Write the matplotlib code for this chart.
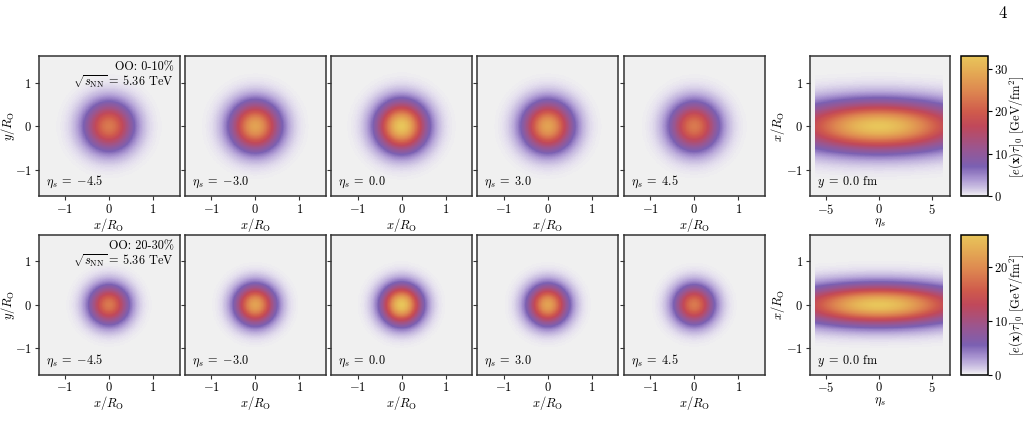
import numpy as np
import matplotlib
matplotlib.use("Agg")
import matplotlib.pyplot as plt
from matplotlib.colors import LinearSegmentedColormap

plt.rcParams['font.family'] = 'serif'
plt.rcParams['font.serif'] = ['cmr10', 'DejaVu Serif']
plt.rcParams['mathtext.fontset'] = 'cm'
plt.rcParams['axes.formatter.use_mathtext'] = True
plt.rcParams['axes.unicode_minus'] = True

# ---------------- data ----------------
eta_slices = [-4.5, -3.0, 0.0, 3.0, 4.5]
row_labels = ["OO: 0-10%", "OO: 20-30%"]
peak_energy = [33.0, 26.0]          # GeV/fm^2 at x=y=0, eta=0
sigma_transverse = [0.37, 0.30]     # in units of R_O
sigma_eta = [5.4, 5.4]              # longitudinal Gaussian width
eta_max = [6.05, 6.05]              # rapidity cut of the grid
cbar_ticks = [[0, 10, 20, 30], [0, 10, 20]]
space_ticks = [-1, 0, 1]
eta_ticks = [-5, 0, 5]

cmap_colors = ["#f0f0f0", "#e7e3ef", "#d0c6e4", "#ab97d2", "#7b60b2", "#9a5690",
               "#c0485a", "#cf5a4c", "#dd8650", "#e3a553", "#e8c55a"]
cmap_pos = [0.0, 0.015, 0.05, 0.12, 0.21, 0.34, 0.5, 0.6, 0.75, 0.87, 1.0]
cmap = LinearSegmentedColormap.from_list("ecmap", list(zip(cmap_pos, cmap_colors)))
bg = cmap(0.0)

W, H = 1025, 423
fig = plt.figure(figsize=(W / 100, H / 100), dpi=100)

def px_axes(left, top, w, h):
    return fig.add_axes([left / W, 1 - (top + h) / H, w / W, h / H])

lim = 1.6
g = np.linspace(-lim, lim, 241)
X, Y = np.meshgrid(g, g)
eg = np.linspace(-6.8, 6.8, 341)
EE, XX = np.meshgrid(eg, g)

tops = [56.5, 235]
lefts = [38.5 + i * 146.3 for i in range(5)]
pw, ph = 141, 139.5
FS = 9
AFS = 8.8

def style(ax):
    for s in ax.spines.values():
        s.set_linewidth(1.1)
        s.set_color("#333333")
    ax.tick_params(labelsize=FS, length=3, width=0.8, color="#333333", pad=2)

def fmt(v):
    t = "%.1f" % v
    return t.replace("-", "{-}")

for r in range(2):
    A = peak_energy[r]
    s = sigma_transverse[r]
    se = sigma_eta[r]
    for i, eta in enumerate(eta_slices):
        ax = px_axes(lefts[i], tops[r], pw, ph)
        Z = A * np.exp(-eta ** 2 / (2 * se ** 2)) * np.exp(-(X ** 2 + Y ** 2) / (2 * s ** 2))
        ax.pcolormesh(X, Y, Z, cmap=cmap, vmin=0, vmax=A, shading='auto', rasterized=True)
        ax.set_xlim(-lim, lim)
        ax.set_ylim(-lim, lim)
        ax.set_xticks(space_ticks)
        ax.set_yticks(space_ticks)
        style(ax)
        if i == 0:
            ax.set_ylabel(r"$y/R_{\rm O}$", fontsize=FS, labelpad=-2)
        else:
            ax.set_yticklabels([])
        ax.set_xlabel(r"$x/R_{\rm O}$", fontsize=FS, labelpad=0)
        ax.text(0.05, 0.04, r"$\eta_s\;=\;%s$" % fmt(eta),
                transform=ax.transAxes, fontsize=AFS, ha='left', va='bottom')
        if i == 0:
            ax.text(0.96, 0.965, row_labels[r], transform=ax.transAxes,
                    fontsize=AFS, ha='right', va='top')
            ax.text(0.96, 0.88, r"$\sqrt{s_{\rm NN}}\,=\,5.36$ TeV", transform=ax.transAxes,
                    fontsize=AFS, ha='right', va='top')

    # eta-x panel
    ax = px_axes(810, tops[r], 140, ph)
    ax.set_facecolor(bg)
    Z = A * np.exp(-EE ** 2 / (2 * se ** 2)) * np.exp(-XX ** 2 / (2 * s ** 2))
    Z = np.ma.masked_where(np.abs(EE) > eta_max[r], Z)
    mesh = ax.pcolormesh(EE, XX, Z, cmap=cmap, vmin=0, vmax=A, shading='auto', rasterized=True)
    ax.set_xlim(-6.5, 6.7)
    ax.set_ylim(-lim, lim)
    ax.set_xticks(eta_ticks)
    ax.set_yticks(space_ticks)
    style(ax)
    ax.set_ylabel(r"$x/R_{\rm O}$", fontsize=FS, labelpad=-1)
    ax.set_xlabel(r"$\eta_s$", fontsize=FS, labelpad=0)
    ax.text(0.05, 0.04, r"$y\;=\;0.0$ fm", transform=ax.transAxes,
            fontsize=AFS, ha='left', va='bottom')

    cax = px_axes(961, tops[r], 27, ph)
    cb = fig.colorbar(mesh, cax=cax, ticks=cbar_ticks[r])
    cb.outline.set_linewidth(1.1)
    cb.ax.tick_params(labelsize=FS, length=3, width=0.8, pad=1)
    cb.set_label(r"$[e(\mathbf{x})\tau]_0$ [GeV/fm$^2$]", fontsize=FS, labelpad=0)

fig.text(1003 / W, 1 - 13 / H, "4", fontsize=12, ha='center', va='center')

fig.savefig("out.png", dpi=100)
